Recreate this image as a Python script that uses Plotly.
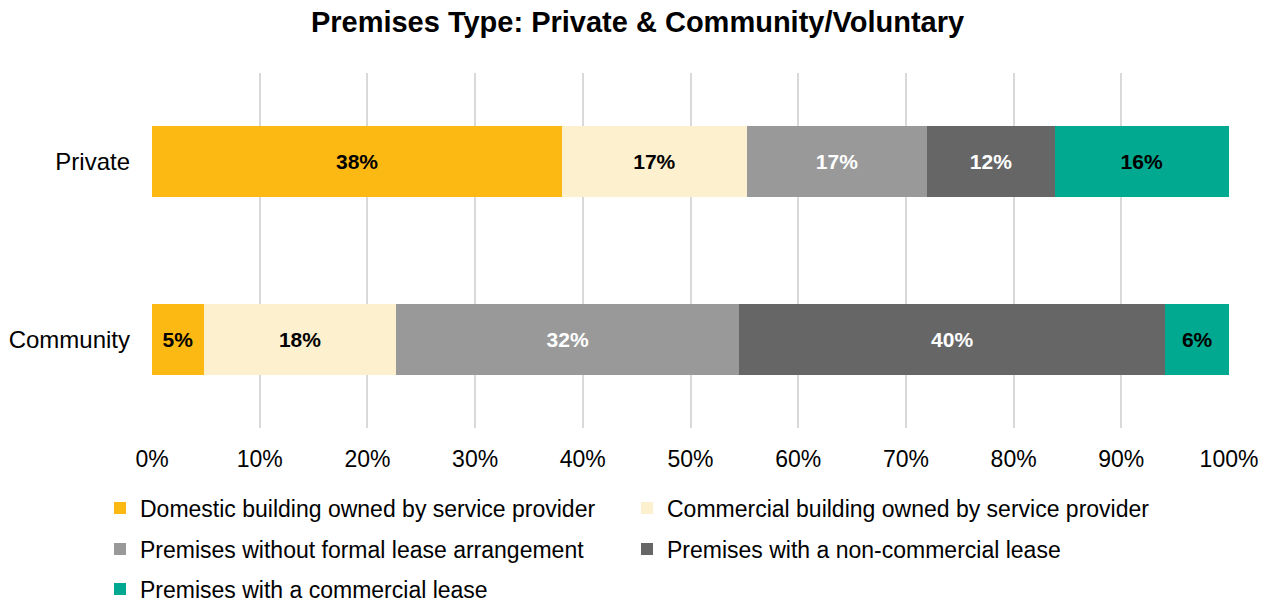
import plotly.graph_objects as go

# Share of premises by type, per provider sector (percent)
categories = ["Private", "Community"]
series_names = [
    "Domestic building owned by service provider",
    "Commercial building owned by service provider",
    "Premises without formal lease arrangement",
    "Premises with a non-commercial lease",
    "Premises with a commercial lease",
]
private_values = [38.1, 17.1, 16.8, 11.8, 16.2]
community_values = [4.8, 17.9, 31.8, 39.6, 5.9]
tick_values = [0, 10, 20, 30, 40, 50, 60, 70, 80, 90, 100]
tick_labels = ["0%", "10%", "20%", "30%", "40%", "50%", "60%", "70%", "80%", "90%", "100%"]

colors = ["#FDB913", "#FDF0CF", "#999999", "#666666", "#00A98F"]
label_colors = ["#000000", "#000000", "#FFFFFF", "#FFFFFF", "#000000"]
legend_ids = ["legend", "legend", "legend2", "legend2", "legend3"]

FONT = "Liberation Sans, Arial, sans-serif"

fig = go.Figure()
for i, name in enumerate(series_names):
    fig.add_trace(go.Bar(
        name=name,
        y=categories,
        x=[private_values[i], community_values[i]],
        orientation="h",
        marker=dict(color=colors[i], line=dict(width=0)),
        width=0.4,
        texttemplate="%{x:.0f}%",
        textposition="inside",
        insidetextanchor="middle",
        textangle=0,
        constraintext="none",
        textfont=dict(family=FONT, size=21, color=label_colors[i], weight="bold"),
        legend=legend_ids[i],
        hoverinfo="skip",
    ))

W, H = 1275, 605
ml, mr, mt, mb = 152, 46, 73, 177
pw = W - ml - mr
ph = H - mt - mb

def px_x(px):
    return (px - ml) / pw

def px_y(py):
    return (H - mb - py) / ph

legend_common = dict(
    orientation="h",
    traceorder="normal",
    xanchor="left",
    yanchor="middle",
    entrywidth=482,
    entrywidthmode="pixels",
    font=dict(family=FONT, size=23, color="#000000"),
    bgcolor="rgba(0,0,0,0)",
    borderwidth=0,
    itemclick=False,
    itemdoubleclick=False,
)

fig.update_layout(
    width=W,
    height=H,
    margin=dict(l=ml, r=mr, t=mt, b=mb, pad=0, autoexpand=False),
    paper_bgcolor="#FFFFFF",
    plot_bgcolor="#FFFFFF",
    barmode="stack",
    font=dict(family=FONT, color="#000000"),
    title=dict(
        text="<b>Premises Type: Private & Community/Voluntary</b>",
        font=dict(family=FONT, size=29, color="#000000"),
        x=0.5,
        xanchor="center",
        xref="container",
        y=1 - 22 / H,
        yanchor="middle",
    ),
    xaxis=dict(
        range=[0, 100],
        tickvals=tick_values,
        ticktext=tick_labels,
        showgrid=True,
        gridcolor="#D9D9D9",
        gridwidth=2,
        zeroline=False,
        showline=False,
        ticks="",
        ticklabelstandoff=15,
        tickfont=dict(family=FONT, size=23, color="#000000"),
        fixedrange=True,
    ),
    yaxis=dict(
        categoryorder="array",
        categoryarray=["Community", "Private"],
        range=[-0.5, 1.5],
        showgrid=False,
        zeroline=False,
        showline=False,
        ticks="",
        ticklabelstandoff=21,
        tickfont=dict(family=FONT, size=24, color="#000000"),
        fixedrange=True,
    ),
    legend=dict(legend_common, x=px_x(100), y=px_y(508)),
    legend2=dict(legend_common, x=px_x(100), y=px_y(549)),
    legend3=dict(legend_common, x=px_x(100), y=px_y(589)),
    showlegend=True,
)

fig.write_html("out.html", config={"displayModeBar": False})
